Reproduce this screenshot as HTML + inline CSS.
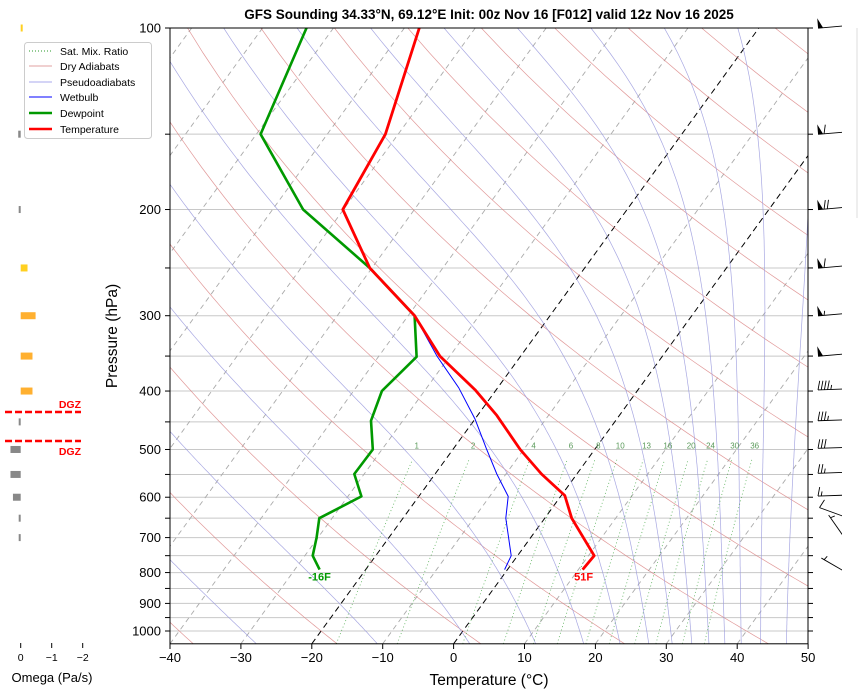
<!DOCTYPE html>
<html><head><meta charset="utf-8">
<style>
html,body{margin:0;padding:0;background:#fff;}
svg{display:block;font-family:"Liberation Sans","DejaVu Sans",sans-serif;}
</style></head>
<body>
<svg id="chart" width="858" height="693" viewBox="0 0 858 693" xmlns="http://www.w3.org/2000/svg">
<defs><clipPath id="pc"><rect x="170" y="28" width="638" height="616"/></clipPath>
<clipPath id="bc"><rect x="800" y="0" width="42" height="693"/></clipPath></defs>
<rect width="858" height="693" fill="#fff"/>
<text x="489" y="19" text-anchor="middle" font-size="13.5" font-weight="bold">GFS Sounding 34.33°N, 69.12°E Init: 00z Nov 16 [F012] valid 12z Nov 16 2025</text>
<g id="bg" clip-path="url(#pc)"></g>
<g id="series" clip-path="url(#pc)"></g>
<g id="axes"></g>
<g id="omega"></g>
<g id="barbs" clip-path="url(#bc)"></g>
<text x="489" y="685" text-anchor="middle" font-size="15.5">Temperature (°C)</text>
<text transform="translate(117,336) rotate(-90)" text-anchor="middle" font-size="15.5">Pressure (hPa)</text>
<text x="52" y="682" text-anchor="middle" font-size="13">Omega (Pa/s)</text>
<line x1="857" y1="28" x2="857" y2="218" stroke="#ddd" stroke-width="1"/>
<g>
<rect x="24.5" y="42.5" width="127" height="96" rx="3" fill="#fff" stroke="#ccc"/>
<line x1="29" y1="51" x2="52" y2="51" stroke="#2a9a2a" stroke-dasharray="1,2" stroke-width="1"/>
<text x="60" y="55" font-size="10.5">Sat. Mix. Ratio</text>
<line x1="29" y1="66" x2="52" y2="66" stroke="#e0a0a0" stroke-width="1"/>
<text x="60" y="70" font-size="10.5">Dry Adiabats</text>
<line x1="29" y1="82" x2="52" y2="82" stroke="#aaaaee" stroke-width="1"/>
<text x="60" y="86" font-size="10.5">Pseudoadiabats</text>
<line x1="29" y1="97" x2="52" y2="97" stroke="#0000ff" stroke-width="1"/>
<text x="60" y="101" font-size="10.5">Wetbulb</text>
<line x1="29" y1="113" x2="52" y2="113" stroke="#009900" stroke-width="2.5"/>
<text x="60" y="117" font-size="10.5">Dewpoint</text>
<line x1="29" y1="129" x2="52" y2="129" stroke="#ff0000" stroke-width="2.5"/>
<text x="60" y="133" font-size="10.5">Temperature</text>
</g>
</svg>
<script>
const tempP = [100,150,200,250,300,350,398,439,500,549,596,650,750,791];
const tempT = [-67.9,-61.8,-60.1,-50.3,-39.1,-31.4,-23.0,-17.3,-10.5,-5.0,0.5,3.8,10.8,10.6];
const dewP = [100,150,200,250,300,351,400,448,500,549,598,650,700,750,791];
const dewT = [-83.8,-79.4,-65.7,-50.3,-39.1,-34.6,-36.0,-34.5,-31.3,-31.4,-28.1,-31.8,-30.2,-28.9,-26.5];
const wbP = [300,350,395,445,498,549,598,650,750,791];
const wbT = [-39.1,-31.8,-25.5,-20.0,-15.4,-11.3,-7.4,-5.5,-0.9,-0.4];
const gridP = [100,150,200,250,300,350,400,450,500,550,600,650,700,750,800,850,900,950,1000];
const yLabels = [100,200,300,400,500,600,700,800,900,1000];
const xTicks = [-40,-30,-20,-10,0,10,20,30,40,50];
const mixRatios = [1,2,4,6,8,10,13,16,20,24,30,36];
const omegaP = [100,150,200,250,300,350,400,450,500,550,600,650,700];
const omegaV = [-0.05,0.08,0.03,-0.22,-0.48,-0.38,-0.38,0.03,0.33,0.33,0.25,0.03,0.03];
const barbP = [100,150,200,250,300,350,400,450,500,550,600,650,700,800];
const barbSpd = [50,60,70,60,55,50,45,35,30,25,15,10,5,5];
const barbAng = [175,175,175,175,175,175,178,178,178,178,178,200,235,210];

const NS="http://www.w3.org/2000/svg";
const X0=453.6, KX=7.09, YB=643.8, SK=0.726;
function yP(p){return 28+603*Math.log10(p/100);}
function xT(t,p){return X0+t*KX+SK*(YB-yP(p));}
function mk(tag,attrs,parent){const e=document.createElementNS(NS,tag);for(const k in attrs)e.setAttribute(k,attrs[k]);parent.appendChild(e);return e;}
const bg=document.getElementById('bg'), ser=document.getElementById('series'), ax=document.getElementById('axes');
function pts(arrT,arrP){return arrT.map((t,i)=>xT(t,arrP[i]).toFixed(1)+','+yP(arrP[i]).toFixed(1)).join(' ');}

gridP.forEach(p=>{const l=mk('line',{x1:170,x2:808,y1:yP(p),y2:yP(p),stroke:'#c8c8c8','stroke-width':1},bg);

});
for(let t=-130;t<=50;t+=10){const blk=(t===0||t===-20);
const l=mk('line',{x1:xT(t,1050),y1:yP(1050),x2:xT(t,100),y2:yP(100),stroke:blk?'#000':'#aaa','stroke-width':blk?1:0.9,'stroke-dasharray':blk?'6,4':'5,4'},bg);

}
const pr=[];for(let p=1050;p>=100;p-=10)pr.push(p);
for(let t0=-60;t0<=220;t0+=20){const T=pr.map(p=>(t0+273.15)*Math.pow(p/1000,0.2857)-273.15);
const l=mk('polyline',{points:pts(T,pr),fill:'none',stroke:'#d98080','stroke-width':0.7,opacity:0.8},bg);

}
function es(tc){return 6.112*Math.exp(17.67*tc/(tc+243.5));}
function dTdp(T,p){const tc=T-273.15;const e=es(tc);const rs=0.622*e/(p-e);const Lv=2.501e6,Rd=287.04,Cp=1005.7;
return (Rd*T+Lv*rs)/(Cp+(Lv*Lv*rs*0.622/(Rd*T*T)))/p;}
for(let th=223;th<=523;th+=20){let T=th*Math.pow(0.1,0.2857),p=100;const P=[p],TT=[T-273.15];const h=5;
while(p<1050){const k1=dTdp(T,p),k2=dTdp(T+h/2*k1,p+h/2),k3=dTdp(T+h/2*k2,p+h/2),k4=dTdp(T+h*k3,p+h);
T+=h/6*(k1+2*k2+2*k3+k4);p+=h;P.push(p);TT.push(T-273.15);}
const l=mk('polyline',{points:pts(TT,P),fill:'none',stroke:'#9999dd','stroke-width':0.7,opacity:0.85},bg);

}
function tdW(w,p){const e=w/1000*p/(0.622+w/1000);const a=Math.log(e/6.112);return 243.5*a/(17.67-a);}
mixRatios.forEach(w=>{const P=[];for(let p=1050;p>=520;p-=10)P.push(p);
const l=mk('polyline',{points:pts(P.map(p=>tdW(w,p)),P),fill:'none',stroke:'#2a9a2a','stroke-width':0.8,'stroke-dasharray':'1,2.5',opacity:0.75},bg);


const tx=mk('text',{x:xT(tdW(w,500),500),y:yP(500)-1,'font-size':8,fill:'#5a9a5a','text-anchor':'middle'},bg);tx.textContent=w;

});
let l=mk('polyline',{points:pts(wbT,wbP),fill:'none',stroke:'#0000ff','stroke-width':1},ser);


l=mk('polyline',{points:pts(dewT,dewP),fill:'none',stroke:'#009900','stroke-width':2.6,'stroke-linejoin':'round'},ser);


l=mk('polyline',{points:pts(tempT,tempP),fill:'none',stroke:'#ff0000','stroke-width':2.8,'stroke-linejoin':'round'},ser);


const sfc=tempP.length-1, dsfc=dewP.length-1;
let t=mk('text',{x:xT(tempT[sfc],tempP[sfc])+1,y:yP(tempP[sfc])+11,'font-size':11,'font-weight':'bold',fill:'#ff0000','text-anchor':'middle'},ser);
t.textContent=Math.round(tempT[sfc]*9/5+32)+'F';


t=mk('text',{x:xT(dewT[dsfc],dewP[dsfc]),y:yP(dewP[dsfc])+11,'font-size':11,'font-weight':'bold',fill:'#009900','text-anchor':'middle'},ser);
t.textContent=Math.round(dewT[dsfc]*9/5+32)+'F';


l=mk('rect',{x:170,y:28,width:638,height:615.8,fill:'none',stroke:'#000','stroke-width':1},ax);


gridP.forEach(p=>{const y=yP(p);mk('line',{x1:165,x2:170,y1:y,y2:y,stroke:'#000'},ax);mk('line',{x1:808,x2:813,y1:y,y2:y,stroke:'#000'},ax);});
yLabels.forEach(p=>{const tx=mk('text',{x:161,y:yP(p)+4.5,'font-size':13,'text-anchor':'end'},ax);tx.textContent=p;

});
xTicks.forEach(v=>{const x=X0+v*KX;mk('line',{x1:x,x2:x,y1:643.8,y2:649,stroke:'#000'},ax);
const tx=mk('text',{x:x,y:662,'font-size':13,'text-anchor':'middle'},ax);tx.textContent=(v<0?'\u2212'+(-v):v);

});
const om=document.getElementById('omega');const OX=20.7,OK=31;
omegaP.forEach((p,i)=>{const v=omegaV[i];const w=Math.max(Math.abs(v)*OK,2);const x=v<0?OX:OX-w;
const col=v>=0?'#888':(v>-0.3?'#ffd020':'#ffb030');
const r=mk('rect',{x:x,y:yP(p)-3.5,width:w,height:7,fill:col},om);

});
[[0,'0'],[-1,'\u22121'],[-2,'\u22122']].forEach(([v,s])=>{const x=OX-v*OK;mk('line',{x1:x,x2:x,y1:643,y2:648,stroke:'#000'},om);
const tx=mk('text',{x:x,y:661,'font-size':10.5,'text-anchor':'middle'},om);tx.textContent=s;

});
[[412,408,'DGZ'],[441,455,'DGZ']].forEach(([y,ty,s])=>{const d=mk('line',{x1:5,x2:81,y1:y,y2:y,stroke:'#ff0000','stroke-width':2.5,'stroke-dasharray':'7,3'},om);


const tx=mk('text',{x:81,y:ty,'font-size':10.5,'font-weight':'bold',fill:'#ff0000','text-anchor':'end'},om);tx.textContent=s;

});
const bb=document.getElementById('barbs');
barbP.forEach((p,i)=>{const g=mk('g',{},bb);


const a=barbAng[i]*Math.PI/180, L=25;const bx=843,by=yP(p)-2;
const ux=Math.cos(a),uy=Math.sin(a);const tx=bx+ux*L,ty=by+uy*L;
mk('line',{x1:bx,y1:by,x2:tx,y2:ty,stroke:'#000','stroke-width':0.9},g);
let s=barbSpd[i],pos=0;const sp=3.2;
let px=-uy,py=ux;if(py>0){px=-px;py=-py;}
while(s>=50){const x1=tx-ux*pos,y1=ty-uy*pos,x2=tx-ux*(pos+5),y2=ty-uy*(pos+5);
mk('polygon',{points:`${x1},${y1} ${x2},${y2} ${x1+px*10},${y1+py*10}`,fill:'#000'},g);pos+=6;s-=50;}
while(s>=10){const x1=tx-ux*pos,y1=ty-uy*pos;mk('line',{x1:x1,y1:y1,x2:x1+px*9-ux*2,y2:y1+py*9-uy*2,stroke:'#000','stroke-width':0.9},g);pos+=sp;s-=10;}
if(s>=5){if(pos===0)pos=sp;const x1=tx-ux*pos,y1=ty-uy*pos;mk('line',{x1:x1,y1:y1,x2:x1+px*4.5-ux,y2:y1+py*4.5-uy,stroke:'#000','stroke-width':0.9},g);}
});
</script>
</body></html>
